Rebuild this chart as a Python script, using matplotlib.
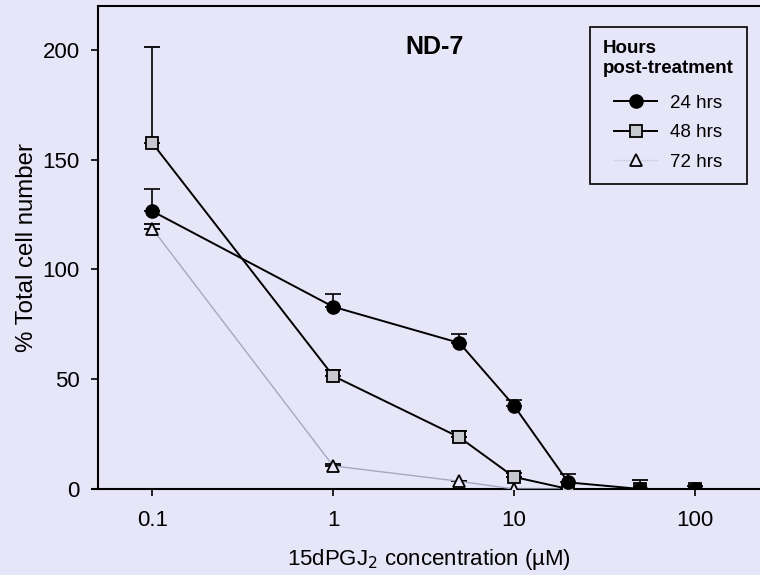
import numpy as np
import matplotlib
matplotlib.use('Agg')
import matplotlib.pyplot as plt
from matplotlib.lines import Line2D
from matplotlib.offsetbox import HPacker, DrawingArea
from matplotlib.ticker import FixedLocator, NullLocator, FixedFormatter

plt.rcParams['font.family'] = ['Liberation Sans', 'DejaVu Sans']

BG = '#e6e6f8'

conc = [0.1, 1, 5, 10, 20, 50, 100]

h24 = [126.5, 83, 66.5, 38, 3, 0, 0]
h24_err = [10, 6, 4, 2.5, 4, 0, 0]
h48 = [157.5, 51.5, 23.5, 5.5, 0, 0, 0]
h48_err = [44, 2.5, 3, 2, 0, 4, 1.5]
h72 = [118.5, 10.5, 3.5, 0, 0, 0, 0]
h72_err = [2, 1, 0, 0, 0, 0, 0]

x_ticks = [0.1, 1, 10, 100]
x_ticklabels = ['0.1', '1', '10', '100']
y_ticks = [0, 50, 100, 150, 200]

STYLE_24 = dict(color='black', lw=1.4, marker='o', ms=9.5, mfc='black', mec='black')
STYLE_48 = dict(color='black', lw=1.4, marker='s', ms=8, mfc='#c8c8d0', mec='black', mew=1.3)
STYLE_72 = dict(color='#a6a8c2', lw=1.0, marker='^', ms=8.5, mfc=BG, mec='black', mew=1.3)

fig = plt.figure(figsize=(7.6, 5.75), dpi=100, facecolor=BG)
ax = fig.add_axes([0.129, 0.1496, 0.871, 0.84])
ax.set_facecolor(BG)

def series(y, err, style, z):
    lower = np.zeros(len(err))
    ax.errorbar(conc, y, yerr=[lower, err], capsize=6, capthick=1.2,
                elinewidth=1.2, ecolor='black', zorder=z, **style)

series(h72, h72_err, STYLE_72, 3)
series(h48, h48_err, STYLE_48, 4)
series(h24, h24_err, STYLE_24, 5)

ax.set_xscale('log')
ax.set_xlim(0.05, 230)
ax.set_ylim(0, 220)
ax.xaxis.set_major_locator(FixedLocator(x_ticks))
ax.xaxis.set_major_formatter(FixedFormatter(x_ticklabels))
ax.xaxis.set_minor_locator(NullLocator())
ax.set_yticks(y_ticks)
ax.tick_params(direction='out', length=5, width=1.2, labelsize=16)
ax.tick_params(axis='y', pad=8)
ax.tick_params(axis='x', pad=10)

for s in ['top', 'left', 'bottom']:
    ax.spines[s].set_linewidth(1.5)
ax.spines['right'].set_visible(False)
# x axis line runs a little past the y axis, sigmaplot style
ax.spines['bottom'].set_bounds(0.0465, 230)

ax.set_xlabel('15dPGJ$_2$ concentration (\u00b5M)', fontsize=16, labelpad=12)
ax.set_ylabel('% Total cell number', fontsize=17.3, labelpad=3.5)
ax.text(0.509, 0.915, 'ND-7', transform=ax.transAxes, ha='center',
        va='center', fontsize=18, fontweight='bold')

handles = [Line2D([], [], **STYLE_24), Line2D([], [], **STYLE_48),
           Line2D([], [], **{**STYLE_72, 'color': '#d4d4e8'})]
labels = ['24 hrs', '48 hrs', '72 hrs']
leg = ax.legend(handles, labels, title='Hours\npost-treatment',
                loc='upper left', bbox_to_anchor=(0.743, 0.9565),
                fontsize=13.5, title_fontsize=13.5, frameon=True,
                fancybox=False, edgecolor='black', facecolor=BG,
                framealpha=1, handlelength=2.3, handletextpad=0.7,
                labelspacing=0.65, borderpad=0.7, borderaxespad=0)
leg.get_frame().set_linewidth(1.2)
leg.get_title().set_fontweight('bold')
# entries sit indented under the title
box = leg._legend_box
box.align = 'left'
indented = HPacker(pad=0, sep=0, align='baseline',
                   children=[DrawingArea(8, 1), leg._legend_handle_box])
box._children = [leg._legend_title_box, indented]
box.sep = 13

fig.savefig('out.png', dpi=100, facecolor=BG)
